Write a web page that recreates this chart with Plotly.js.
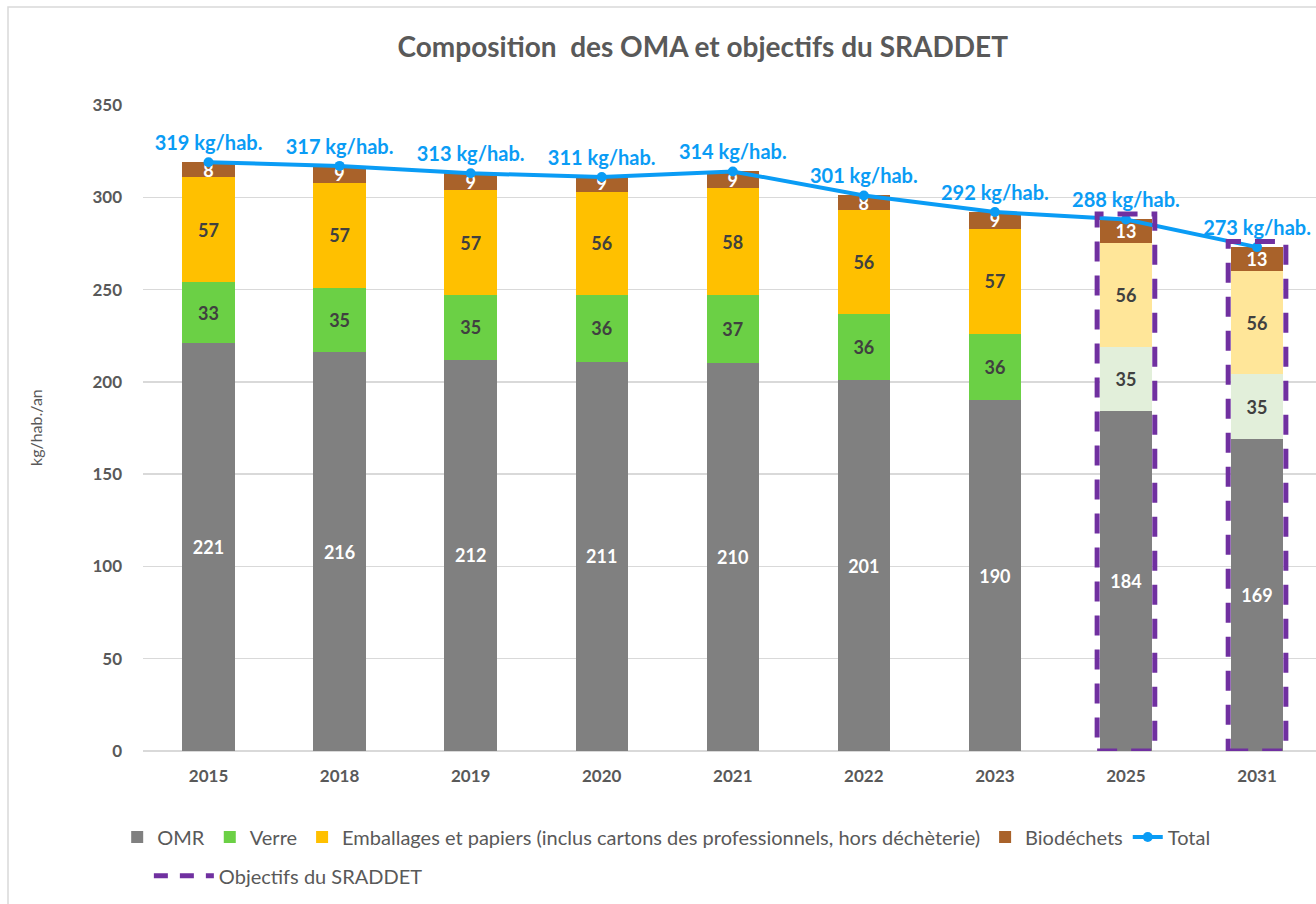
<!DOCTYPE html>
<html>
<head>
<meta charset="utf-8">
<script src="https://cdn.plot.ly/plotly-3.0.1.min.js"></script>
<style>
  html, body { margin: 0; padding: 0; background: #fff; }
  #chart { width: 1316px; height: 904px; }
</style>
</head>
<body>
<div id="chart"></div>
<script>
var annees = ['2015', '2018', '2019', '2020', '2021', '2022', '2023', '2025', '2031']
var omr = [221, 216, 212, 211, 210, 201, 190, 184, 169]
var verre = [33, 35, 35, 36, 37, 36, 36, 35, 35]
var emballages = [57, 57, 57, 56, 58, 56, 57, 56, 56]
var biodechets = [8, 9, 9, 9, 9, 8, 9, 13, 13]
var total = [319, 317, 313, 311, 314, 301, 292, 288, 273]
var objectifs = ['2025', '2031'] // years that are SRADDET targets

var font = 'Lato, "Open Sans", sans-serif'
var gris = '#595959'
var violet = '#7030a0'
var tiret = '20px,14px'

function estObjectif(a) { return objectifs.indexOf(a) >= 0 }

function barre(nom, valeurs, couleur, couleurObjectif, couleurTexte) {
    return {
        type: 'bar',
        name: nom,
        x: annees,
        y: valeurs,
        text: valeurs.map(String),
        textposition: 'inside',
        insidetextanchor: 'middle',
        textangle: 0,
        constraintext: 'none',
        textfont: { family: font, size: 18, color: couleurTexte, weight: 'bold' },
        marker: { color: annees.map(a => estObjectif(a) ? couleurObjectif : couleur) },
        hoverinfo: 'skip'
    }
}

var traces = [
    barre('OMR', omr, '#808080', '#808080', '#ffffff'),
    barre('Verre', verre, '#6bd045', '#e2efda', '#404040'),
    barre('Emballages et papiers (inclus cartons des professionnels, hors déchèterie)',
          emballages, '#ffc000', '#ffe699', '#404040'),
    barre('Biodéchets', biodechets, '#a9622a', '#a9622a', '#ffffff'),
    {
        type: 'scatter',
        name: 'Total',
        x: annees,
        y: total,
        mode: 'lines+markers+text',
        text: total.map(v => v + ' kg/hab.'),
        textposition: 'top center',
        textfont: { family: font, size: 20, color: '#0a9cf5', weight: 'bold' },
        line: { color: '#0a9cf5', width: 4 },
        marker: { color: '#0a9cf5', size: 10 },
        cliponaxis: false,
        hoverinfo: 'skip'
    },
    {
        type: 'scatter',
        name: 'Objectifs du SRADDET',
        legend: 'legend2',
        x: [null],
        y: [null],
        mode: 'lines',
        line: { color: violet, width: 5, dash: '14px,12px' }
    }
]

// dashed frames around the target bars
var shapes = objectifs.map(function (a) {
    var i = annees.indexOf(a)
    return {
        type: 'rect',
        xref: 'x', yref: 'y',
        x0: i - 0.22, x1: i + 0.22,
        y0: 0, y1: total[i] + 3,
        line: { color: violet, width: 5, dash: tiret },
        fillcolor: 'rgba(0,0,0,0)'
    }
})

// chart border
shapes.push({
    type: 'rect', xref: 'paper', yref: 'paper',
    x0: -135 / 1173, x1: 1.01, y0: -0.3, y1: 744 / 646,
    line: { color: '#d9d9d9', width: 1.5 }, layer: 'below'
})

var legendFont = { family: font, size: 20, color: gris }

var layout = {
    width: 1316,
    height: 904,
    margin: { l: 143, r: 0, t: 105, b: 153 },
    paper_bgcolor: '#ffffff',
    plot_bgcolor: '#ffffff',
    font: { family: font, color: gris },
    title: {
        text: 'Composition  des OMA et objectifs du SRADDET',
        font: { family: font, size: 28, color: gris, weight: 'bold' },
        xref: 'container', x: 0.534, xanchor: 'center',
        yref: 'container', y: 1 - 47 / 904, yanchor: 'middle'
    },
    barmode: 'stack',
    bargap: 0.6,
    showlegend: true,
    legend: {
        orientation: 'h',
        traceorder: 'normal',
        x: -0.022, xanchor: 'left',
        y: -0.103, yanchor: 'top',
        font: legendFont,
        itemwidth: 30
    },
    legend2: {
        orientation: 'h',
        x: 0.005, xanchor: 'left',
        y: -0.163, yanchor: 'top',
        font: legendFont,
        itemwidth: 60
    },
    xaxis: {
        type: 'category',
        range: [-0.5, 8.45],
        showgrid: false,
        showline: false,
        ticks: '',
        ticklabelstandoff: 13,
        tickfont: { family: font, size: 17, color: gris, weight: 'bold' },
        fixedrange: true
    },
    yaxis: {
        range: [0, 350],
        dtick: 50,
        showgrid: true,
        gridcolor: '#d9d9d9',
        gridwidth: 1.5,
        zeroline: true,
        zerolinecolor: '#d9d9d9',
        zerolinewidth: 1.5,
        showline: false,
        ticks: '',
        ticklabelstandoff: 20,
        tickfont: { family: font, size: 17, color: gris, weight: 'bold' },
        fixedrange: true
    },
    annotations: [{
        text: 'kg/hab./an',
        xref: 'paper', yref: 'paper',
        x: -108 / 1173, y: 0.5,
        xanchor: 'center', yanchor: 'middle',
        textangle: -90,
        showarrow: false,
        font: { family: font, size: 16, color: gris }
    }],
    shapes: shapes,
    hovermode: false
}

Plotly.newPlot('chart', traces, layout, { displayModeBar: false, staticPlot: true })
</script>
</body>
</html>
